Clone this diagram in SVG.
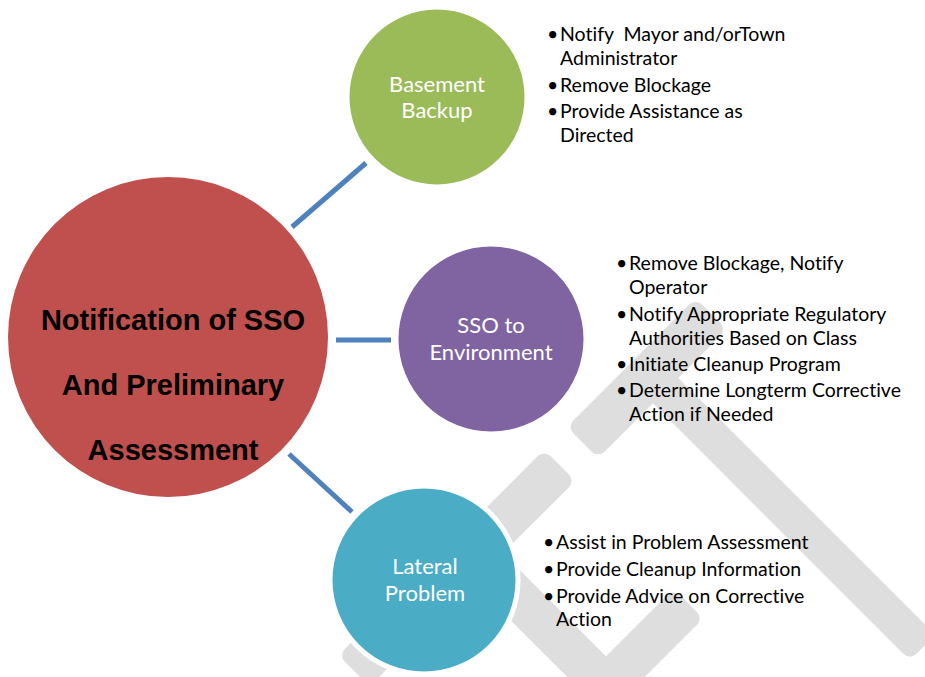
<svg xmlns="http://www.w3.org/2000/svg" width="925" height="677" viewBox="0 0 925 677">
  <style>
    .wm { fill: #DEDEDE; }
    .link { stroke: #4F81BD; stroke-width: 5; fill: none; }
    .hub { fill: #C0504D; }
    .sat { stroke: #FFFFFF; stroke-width: 5; }
    .hubtext { font-family: "Liberation Sans", Arial, sans-serif; font-weight: bold; font-size: 29px; fill: #000; text-anchor: middle; }
    .sattext { font-family: Lato, "Open Sans", sans-serif; font-size: 22px; fill: #FFFFFF; text-anchor: middle; font-variant-ligatures: none; }
    .item { font-family: Lato, "Open Sans", sans-serif; font-size: 19.5px; fill: #000; font-variant-ligatures: none; white-space: pre; }
  </style>

  <!-- background emblem: light gray rounded bars -->
  <g id="emblem">
    <rect class="wm" x="0" y="-22" width="182" height="44" rx="9" transform="translate(582.5,442.5) rotate(-45)"/>
    <rect class="wm" x="0" y="-22" width="291" height="44" rx="9" transform="translate(354,671) rotate(-45)"/>
    <rect class="wm" x="0" y="-18" width="375" height="36" rx="9" transform="translate(657.5,382.5) rotate(45)"/>
    <rect class="wm" x="0" y="-21" width="233" height="42" rx="9" transform="translate(460,540) rotate(45)"/>
    <rect class="wm" x="0" y="-21" width="152" height="42" rx="9" transform="translate(581,711) rotate(-45)"/>
  </g>

  <!-- connectors from the hub to each step -->
  <g id="connectors">
    <line class="link" x1="292" y1="227" x2="366" y2="163"/>
    <line class="link" x1="336" y1="340" x2="391" y2="340"/>
    <line class="link" x1="289" y1="454" x2="352" y2="512"/>
  </g>

  <g id="hub">
    <circle class="hub" cx="168" cy="337" r="160"/>
    <text class="hubtext" x="173" y="330">Notification of SSO</text>
    <text class="hubtext" x="173" y="395">And Preliminary</text>
    <text class="hubtext" x="173" y="460">Assessment</text>
  </g>

  <g id="basement-backup">
    <circle class="sat" cx="437" cy="97" r="90" fill="#9BBB59"/>
    <text class="sattext" x="437" y="92">Basement</text>
    <text class="sattext" x="437" y="118">Backup</text>
  </g>

  <g id="sso-environment">
    <circle class="sat" cx="491" cy="339" r="95" fill="#8064A2"/>
    <text class="sattext" x="491" y="333">SSO to</text>
    <text class="sattext" x="491" y="360">Environment</text>
  </g>

  <g id="lateral-problem">
    <circle class="sat" cx="424" cy="580" r="94" fill="#4BACC6"/>
    <text class="sattext" x="425" y="574">Lateral</text>
    <text class="sattext" x="425" y="601">Problem</text>
  </g>

  <g id="basement-actions">
    <text class="item" x="547" y="41">•</text>
    <text class="item" x="560" y="41" xml:space="preserve">Notify  Mayor and/orTown</text>
    <text class="item" x="560" y="65">Administrator</text>
    <text class="item" x="547" y="92">•</text>
    <text class="item" x="560" y="92">Remove Blockage</text>
    <text class="item" x="547" y="118">•</text>
    <text class="item" x="560" y="118">Provide Assistance as</text>
    <text class="item" x="560" y="142">Directed</text>
  </g>

  <g id="environment-actions">
    <text class="item" x="616" y="270">•</text>
    <text class="item" x="629" y="270">Remove Blockage, Notify</text>
    <text class="item" x="629" y="294">Operator</text>
    <text class="item" x="616" y="321">•</text>
    <text class="item" x="629" y="321">Notify Appropriate Regulatory</text>
    <text class="item" x="629" y="345">Authorities Based on Class</text>
    <text class="item" x="616" y="371">•</text>
    <text class="item" x="629" y="371">Initiate Cleanup Program</text>
    <text class="item" x="616" y="397">•</text>
    <text class="item" x="629" y="397">Determine Longterm Corrective</text>
    <text class="item" x="629" y="421">Action if Needed</text>
  </g>

  <g id="lateral-actions">
    <text class="item" x="543" y="549">•</text>
    <text class="item" x="556" y="549">Assist in Problem Assessment</text>
    <text class="item" x="543" y="576">•</text>
    <text class="item" x="556" y="576">Provide Cleanup Information</text>
    <text class="item" x="543" y="603">•</text>
    <text class="item" x="556" y="603">Provide Advice on Corrective</text>
    <text class="item" x="556" y="626">Action</text>
  </g>
</svg>
